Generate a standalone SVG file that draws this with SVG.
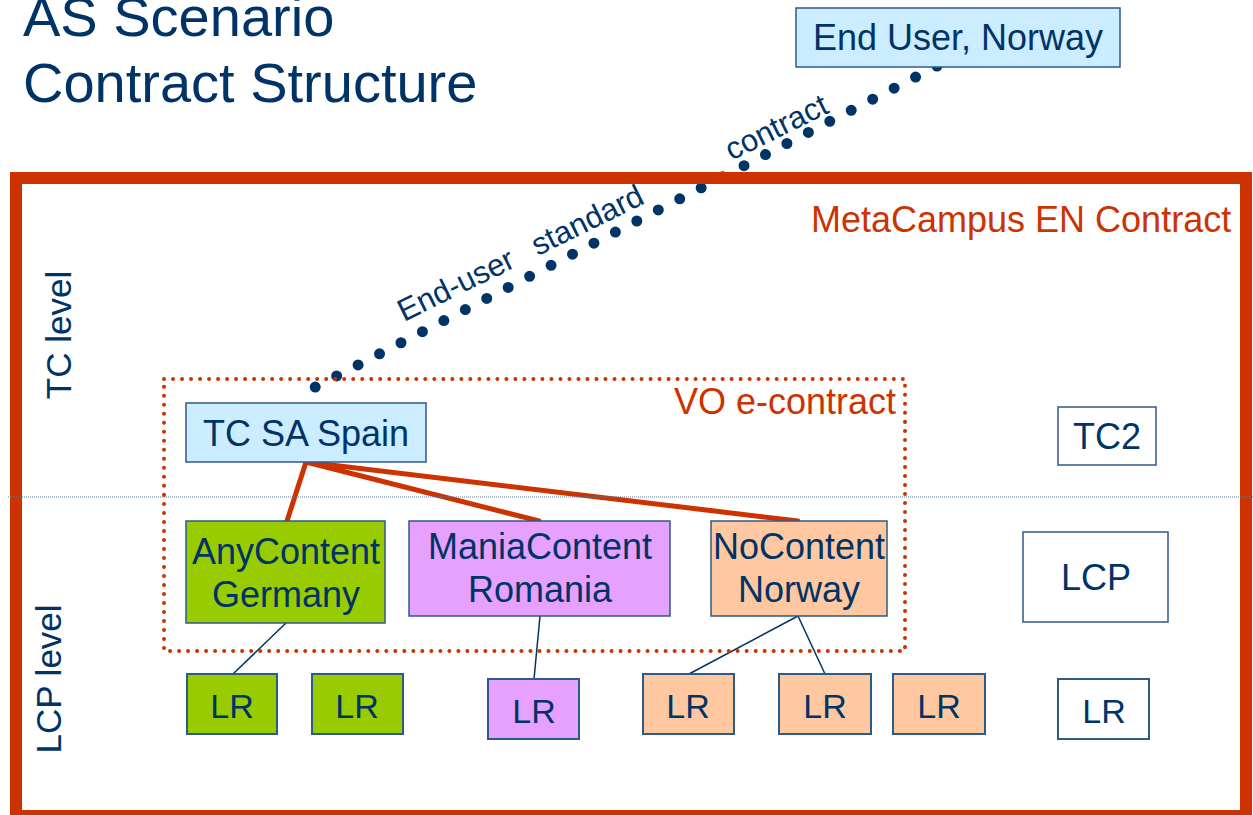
<svg xmlns="http://www.w3.org/2000/svg" width="1253" height="815" viewBox="0 0 1253 815">
<style>
text{font-family:"Liberation Sans",Arial,sans-serif;fill:#003366}
.lbl{font-size:36px;text-anchor:middle}
.lr{font-size:34px;text-anchor:middle}
.red{fill:#CC3300}
.box{stroke:#2E5A88;stroke-width:1.5}
.lrbox{stroke:#2E5A88;stroke-width:2}
.blue{fill:#CCECFF}
.green{fill:#99CC00}
.purple{fill:#E6A1FF}
.orange{fill:#FFC8A0}
.white{fill:#FFFFFF}
.thin{stroke:#003366;stroke-width:1.5;fill:none}
.thick{stroke:#CC3300;stroke-width:5;fill:none;stroke-linecap:round}
</style>
<rect width="1253" height="815" fill="#FFFFFF"/>
<g id="title">
<text x="23" y="36" font-size="56">AS Scenario</text>
<text x="23" y="102" font-size="56">Contract Structure</text>
</g>
<g id="connectors">
<line x1="937" y1="66" x2="294" y2="398" stroke="#003366" stroke-width="11" stroke-linecap="round" stroke-dasharray="0 24.13"/>
<text transform="translate(404,322) rotate(-26.2)" font-size="31"><tspan x="0">End-user </tspan><tspan x="149">standard </tspan><tspan x="365">contract</tspan></text>
<line class="thick" x1="306" y1="462" x2="287" y2="521"/>
<line class="thick" x1="306" y1="462" x2="539" y2="521"/>
<line class="thick" x1="306" y1="462" x2="798" y2="521"/>
<line class="thin" x1="286" y1="623" x2="233" y2="674"/>
<line class="thin" x1="540" y1="616" x2="534" y2="679"/>
<line class="thin" x1="798" y1="616" x2="689" y2="674"/>
<line class="thin" x1="798" y1="616" x2="825" y2="674"/>
</g>
<g id="metacampus">
<rect x="16" y="178" width="1230" height="638" fill="none" stroke="#CC3300" stroke-width="12"/>
<text class="red" x="811" y="232" font-size="36">MetaCampus EN Contract</text>
</g>
<line id="level-divider" x1="8" y1="497" x2="1253" y2="497" stroke="#5A7A9A" stroke-width="1" stroke-dasharray="1 1"/>
<g id="levels">
<text transform="translate(71,335) rotate(-90)" font-size="35" text-anchor="middle">TC level</text>
<text transform="translate(61,679) rotate(-90)" font-size="35" text-anchor="middle">LCP level</text>
</g>
<g id="vo-econtract">
<rect x="164" y="379" width="741" height="272" fill="none" stroke="#CC3300" stroke-width="4" stroke-linecap="round" stroke-dasharray="0.01 9"/>
<text class="red" x="896" y="414" font-size="36" text-anchor="end">VO e-contract</text>
</g>
<g id="end-user">
<rect class="box blue" x="796" y="8" width="324" height="59"/>
<text class="lbl" x="958" y="50">End User, Norway</text>
</g>
<g id="tc-sa-spain">
<rect class="box blue" x="186" y="403" width="240" height="59"/>
<text class="lbl" x="306" y="446">TC SA Spain</text>
</g>
<g id="tc2">
<rect class="box white" x="1058" y="407" width="98" height="58"/>
<text class="lbl" x="1107" y="449">TC2</text>
</g>
<g id="anycontent">
<rect class="box green" x="186" y="521" width="199" height="102"/>
<text class="lbl" x="286" y="564">AnyContent</text>
<text class="lbl" x="286" y="607">Germany</text>
</g>
<g id="maniacontent">
<rect class="box purple" x="409" y="521" width="261" height="95"/>
<text class="lbl" x="540" y="559">ManiaContent</text>
<text class="lbl" x="540" y="602">Romania</text>
</g>
<g id="nocontent">
<rect class="box orange" x="711" y="521" width="176" height="95"/>
<text class="lbl" x="799" y="559">NoContent</text>
<text class="lbl" x="799" y="602">Norway</text>
</g>
<g id="lcp">
<rect class="box white" x="1023" y="532" width="145" height="90"/>
<text class="lbl" x="1096" y="590">LCP</text>
</g>
<g id="lr1"><rect class="lrbox green" x="187" y="674" width="90" height="60"/><text class="lr" x="232" y="718">LR</text></g>
<g id="lr2"><rect class="lrbox green" x="312" y="674" width="91" height="60"/><text class="lr" x="357" y="718">LR</text></g>
<g id="lr3"><rect class="lrbox purple" x="488" y="679" width="91" height="60"/><text class="lr" x="534" y="723">LR</text></g>
<g id="lr4"><rect class="lrbox orange" x="643" y="674" width="91" height="60"/><text class="lr" x="688" y="718">LR</text></g>
<g id="lr5"><rect class="lrbox orange" x="779" y="674" width="92" height="60"/><text class="lr" x="825" y="718">LR</text></g>
<g id="lr6"><rect class="lrbox orange" x="893" y="674" width="92" height="60"/><text class="lr" x="939" y="718">LR</text></g>
<g id="lr7"><rect class="lrbox white" x="1058" y="679" width="91" height="60"/><text class="lr" x="1104" y="723">LR</text></g>
</svg>
